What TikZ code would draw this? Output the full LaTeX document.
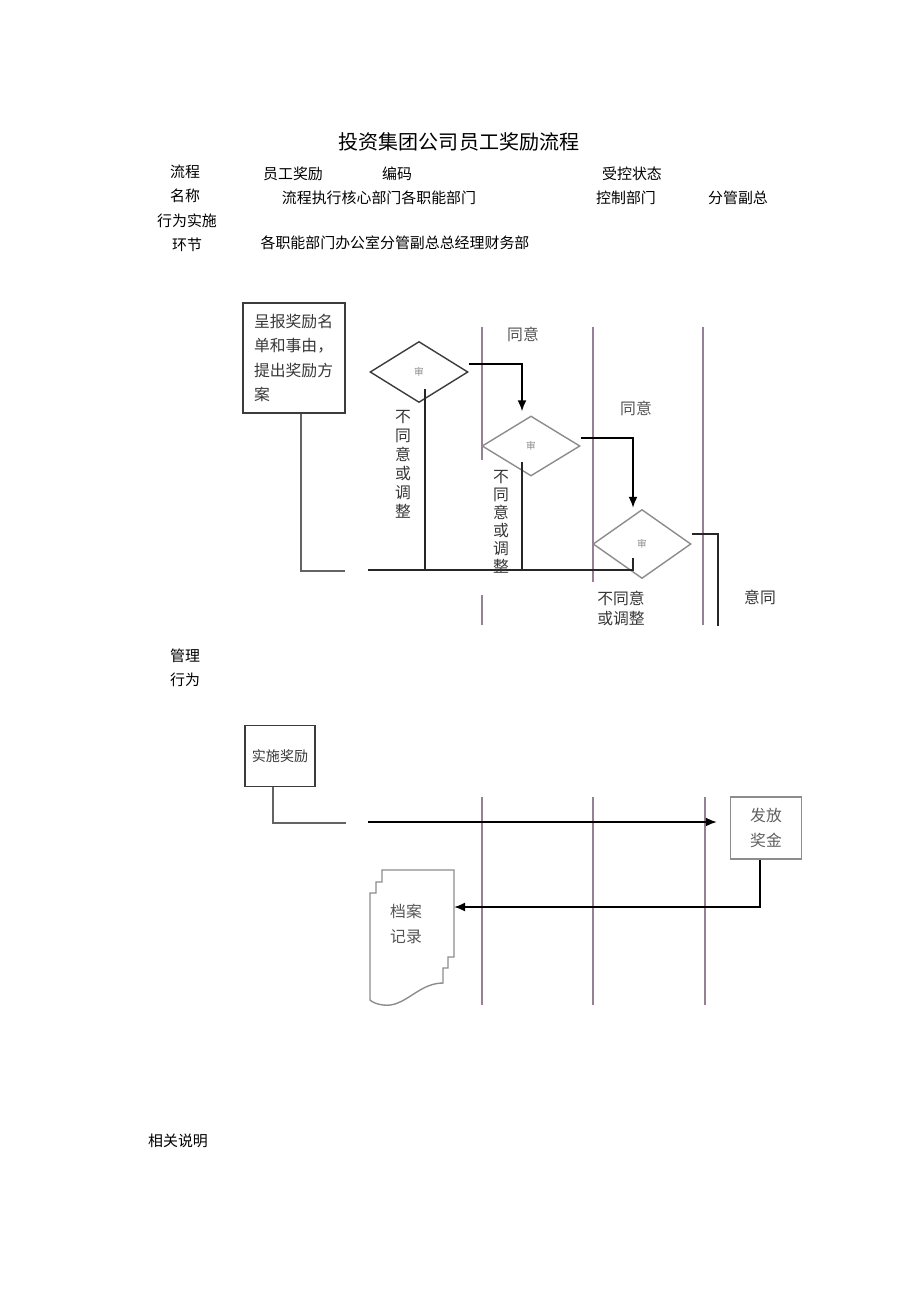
\documentclass[tikz,border=0pt]{standalone}
\usepackage{fontspec}
\setmainfont{Noto Sans CJK SC}
\usepackage{tikz}
\usetikzlibrary{positioning,arrows.meta,shapes.geometric}
\definecolor{lanecol}{RGB}{150,128,150}
\definecolor{boxcol}{RGB}{60,60,60}
\definecolor{greycol}{RGB}{140,140,140}
\definecolor{txtcol}{RGB}{55,55,55}
\tikzset{
  flowarrow/.style={-{Latex[length=2.2mm,width=1.8mm]}, line width=1pt, black},
  retline/.style={line width=0.9pt, black!85},
  linkline/.style={line width=0.8pt, boxcol!80},
  lane/.style={line width=0.8pt, lanecol},
  docline/.style={line width=0.8pt, greycol},
  titletext/.style={font=\fontsize{11.4}{13}\selectfont, text=black},
  headtext/.style={font=\fontsize{8.5}{10}\selectfont, text=black},
  stepbox/.style={draw=boxcol, line width=0.8pt, minimum width=2.04cm, minimum height=2.2cm, text width=1.6cm, align=left, text=txtcol},
  smallbox/.style={draw=boxcol, line width=0.8pt, minimum width=1.4cm, minimum height=1.22cm, inner sep=0pt, font=\fontsize{8}{10}\selectfont, text=txtcol},
  paybox/.style={draw=greycol, line width=0.8pt, minimum width=1.42cm, minimum height=1.24cm, align=center, text=txtcol!80},
  checkbox/.style={diamond, draw=greycol, line width=0.8pt, minimum width=1.96cm, minimum height=1.22cm, inner sep=0pt, font=\fontsize{5.5}{6}\selectfont, text=greycol},
  vtext/.style={align=center, inner sep=0pt, text=txtcol},
  remark/.style={align=center, inner sep=0pt, text=txtcol}
}
\begin{document}
\begin{tikzpicture}[x=0.02cm, y=-0.02cm, >=Latex, every node/.style={font=\fontsize{9}{14}\selectfont}]
  \useasboundingbox (0,0) rectangle (920,1301);
  \node[titletext] (title) at (459,142) {投资集团公司员工奖励流程};
  \node[headtext] (flowa) at (185,172) {流程};
  \node[headtext] (flowname) at (293,174) {员工奖励};
  \node[headtext] (code) at (397,174) {编码};
  \node[headtext] (state) at (632,174) {受控状态};
  \node[headtext] (flowb) at (185,196) {名称};
  \node[headtext] (core) at (379,198) {流程执行核心部门各职能部门};
  \node[headtext] (ctrl) at (626,198) {控制部门};
  \node[headtext] (vice) at (738,198) {分管副总};
  \node[headtext] (acta) at (187,221) {行为实施};
  \node[headtext] (actb) at (187,245) {环节};
  \node[headtext] (depts) at (395,243) {各职能部门办公室分管副总总经理财务部};
  \node[headtext] (mgma) at (185,656) {管理};
  \node[headtext] (mgmb) at (185,680) {行为};
  \node[headtext] (notes) at (178,1141) {相关说明};

  \draw[lane] (482,327) -- (482,460);
  \draw[lane] (482,595) -- (482,625);
  \draw[lane] (593,327) -- (593,582);
  \draw[lane] (703,327) -- (703,625);
  \draw[lane] (482,797) -- (482,1005);
  \draw[lane] (593,797) -- (593,1005);
  \draw[lane] (705,797) -- (705,1005);

  \node[stepbox] (report) at (294,358) {呈报奖励名\\单和事由，\\提出奖励方\\案};
  \node[checkbox, draw=boxcol] (chk1) at (419,372) {审};
  \node[checkbox, minimum height=1.2cm] (chk2) at (531,446) {审};
  \node[checkbox, minimum height=1.38cm] (chk3) at (642,544) {审};

  \draw[flowarrow] ([yshift=0.16cm]chk1.east) -| ([xshift=-0.18cm,yshift=0.08cm]chk2.north);
  \draw[flowarrow] ([yshift=0.16cm]chk2.east) -| ([xshift=-0.18cm,yshift=0.02cm]chk3.north);
  \coordinate (down3) at (718,626);
  \draw[retline] ([yshift=0.2cm]chk3.east) -| (down3);

  \coordinate (back) at (368,570);
  \draw[retline] ([xshift=0.12cm,yshift=-0.34cm]chk1.center) |- (back);
  \draw[retline] ([xshift=-0.18cm,yshift=-0.32cm]chk2.center) |- (back);
  \draw[retline] ([xshift=-0.18cm,yshift=-0.28cm]chk3.center) |- (back);
  \coordinate (rbend) at (345,571);
  \draw[linkline] ([xshift=0.14cm]report.south) |- (rbend);

  \node[remark, text=txtcol!85] (yes1) at (523,334) {同意};
  \node[remark, text=txtcol!85] (yes2) at (636,408) {同意};
  \node[remark] (yes3) at (760,597) {意同};
  \node[remark, font=\fontsize{9}{11.3}\selectfont] (no3) at (621,608) {不同意\\或调整};
  \node[vtext, font=\fontsize{9}{10.8}\selectfont] (no1) at (403,464) {不\\同\\意\\或\\调\\整};
  \node[vtext, font=\fontsize{9}{10.3}\selectfont] (no2) at (501,522) {不\\同\\意\\或\\调\\整};

  \node[smallbox] (implement) at (280,756) {实施奖励};
  \node[paybox] (pay) at (766,828) {发放\\奖金};
  \coordinate (ibend) at (346,823);
  \draw[linkline] ([xshift=-0.14cm]implement.south) |- (ibend);
  \coordinate (go) at (368,822);
  \coordinate (payin) at ([xshift=-0.26cm]pay.west);
  \draw[flowarrow] (go) -- (payin |- go);

  \draw[docline] (382,870) -- (454,870) -- (454,957) -- (448,957) -- (448,968) -- (443,968) -- (443,983)
    .. controls (418,983) and (405,1008) .. (383,1005) .. controls (376,1004) and (372,1002) .. (370,1000)
    -- (370,893) -- (376,893) -- (376,882) -- (382,882) -- cycle;
  \node[remark, text=txtcol!85] (rec) at (406,924) {档案\\记录};
  \coordinate (recin) at (454,907);
  \draw[flowarrow] ([xshift=-0.12cm]pay.south) |- (recin);
\end{tikzpicture}
\end{document}
